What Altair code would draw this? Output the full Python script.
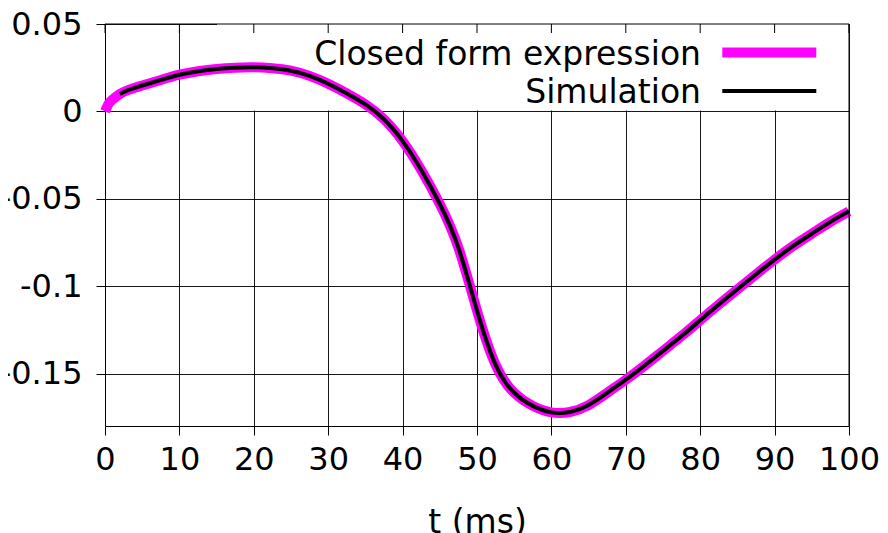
import altair as alt
import pandas as pd

# ---- data ----
t_closed = [0, 0.5, 1, 2, 3, 4, 5, 7.5, 10, 12.5, 15, 17.5, 20, 22.5, 25, 27.5, 30,
            32.5, 35, 37.5, 40, 42.5, 45, 47.5, 50, 52.5, 55, 57.5, 60, 62.5, 65,
            67.5, 70, 72.5, 75, 77.5, 80, 82.5, 85, 87.5, 90, 92.5, 95, 97.5, 100]
v_closed = [0.0, 0.0045, 0.0068, 0.0100, 0.0120, 0.0135, 0.0148, 0.0180, 0.0210,
            0.0230, 0.0243, 0.0250, 0.0252, 0.0247, 0.0233, 0.0203, 0.0158, 0.0103,
            0.0040, -0.0045, -0.0170, -0.0335, -0.0530, -0.0780, -0.1140, -0.1450,
            -0.1610, -0.1685, -0.1722, -0.1720, -0.1680, -0.1610, -0.1535, -0.1455,
            -0.1370, -0.1285, -0.1195, -0.1105, -0.1018, -0.0932, -0.0848, -0.0770,
            -0.0700, -0.0632, -0.0572]
t_sim = t_closed[3:]
v_sim = v_closed[3:]

x_ticks = [0, 10, 20, 30, 40, 50, 60, 70, 80, 90, 100]
y_ticks = [-0.15, -0.1, -0.05, 0, 0.05]
legend_labels = ["Closed form expression", "Simulation"]
x_title = "t (ms)"

W, H = 744, 402
FONT = "DejaVu Sans"
FS = 32
FS_KEY = 33
MAGENTA = "#ff00ff"

xs = alt.Scale(domain=[0, 100], nice=False, zero=False)
ys = alt.Scale(domain=[-0.18, 0.05], nice=False, zero=False)

x_axis = alt.Axis(values=x_ticks, title=x_title, grid=True, gridColor="black",
                  gridWidth=1, gridOpacity=0.9, domain=True, domainColor="black",
                  domainWidth=1, tickColor="black", tickSize=9, tickWidth=1,
                  labelFontSize=FS, labelFont=FONT, labelColor="black",
                  labelPadding=9, labelFlush=False, labelOverlap=False,
                  titleFontSize=FS_KEY, titleFont=FONT, titleColor="black",
                  titleFontWeight="normal", titleBaseline="alphabetic", titleY=106)
y_axis = alt.Axis(values=y_ticks, title=None, grid=True, gridColor="black",
                  gridWidth=1, gridOpacity=0.9, domain=True, domainColor="black",
                  domainWidth=1, tickColor="black", tickSize=9, tickWidth=1,
                  labelFontSize=FS, labelFont=FONT, labelColor="black",
                  labelPadding=14, labelFlush=False, labelOverlap=False,
                  labelExpr="toString(datum.value)")

df_closed = pd.DataFrame({"t": t_closed, "v": v_closed})
df_sim = pd.DataFrame({"t": t_sim, "v": v_sim})
df_ticks = pd.DataFrame({"t": x_ticks})
one = pd.DataFrame({"a": [0]})

# opaque key box (hides grid behind the key)
key_box = alt.Chart(one).mark_rect(color="white").encode(
    x=alt.value(112), x2=alt.value(W), y=alt.value(0), y2=alt.value(86.6))

closed = alt.Chart(df_closed).mark_line(
    color=MAGENTA, strokeWidth=10, interpolate="natural").encode(
    x=alt.X("t:Q", scale=xs, axis=x_axis),
    y=alt.Y("v:Q", scale=ys, axis=y_axis))

sim = alt.Chart(df_sim).mark_line(
    color="black", strokeWidth=4, interpolate="natural").encode(
    x=alt.X("t:Q", scale=xs, axis=x_axis),
    y=alt.Y("v:Q", scale=ys, axis=y_axis))

top_ticks = alt.Chart(df_ticks).mark_rule(color="black", strokeWidth=1).encode(
    x=alt.X("t:Q", scale=xs, axis=x_axis),
    y=alt.value(0), y2=alt.value(9))

top_border = alt.Chart(one).mark_rule(color="black", strokeWidth=1).encode(
    x=alt.value(0), x2=alt.value(W), y=alt.value(0))
right_border = alt.Chart(one).mark_rule(color="black", strokeWidth=1).encode(
    x=alt.value(W), y=alt.value(0), y2=alt.value(H))

key_text1 = alt.Chart(one).mark_text(
    text=legend_labels[0], font=FONT, fontSize=FS_KEY, align="right",
    baseline="alphabetic", color="black").encode(x=alt.value(596), y=alt.value(40.5))
key_text2 = alt.Chart(one).mark_text(
    text=legend_labels[1], font=FONT, fontSize=FS_KEY, align="right",
    baseline="alphabetic", color="black").encode(x=alt.value(596), y=alt.value(78.7))
key_line1 = alt.Chart(one).mark_rule(color=MAGENTA, strokeWidth=10, strokeCap="butt").encode(
    x=alt.value(617.3), x2=alt.value(711.3), y=alt.value(28.5))
key_line2 = alt.Chart(one).mark_rule(color="black", strokeWidth=4, strokeCap="butt").encode(
    x=alt.value(617.3), x2=alt.value(711.3), y=alt.value(67))

chart = alt.layer(
    key_box, closed, sim, top_ticks, top_border, right_border,
    key_text1, key_text2, key_line1, key_line2
).properties(
    width=W, height=H,
    autosize=alt.AutoSizeParams(type="none"),
    padding={"left": 97, "top": 16, "right": 30, "bottom": 108},
    background="white",
).configure_view(strokeWidth=0)

chart.save("out.html", embed_options={"renderer": "svg", "actions": False})
